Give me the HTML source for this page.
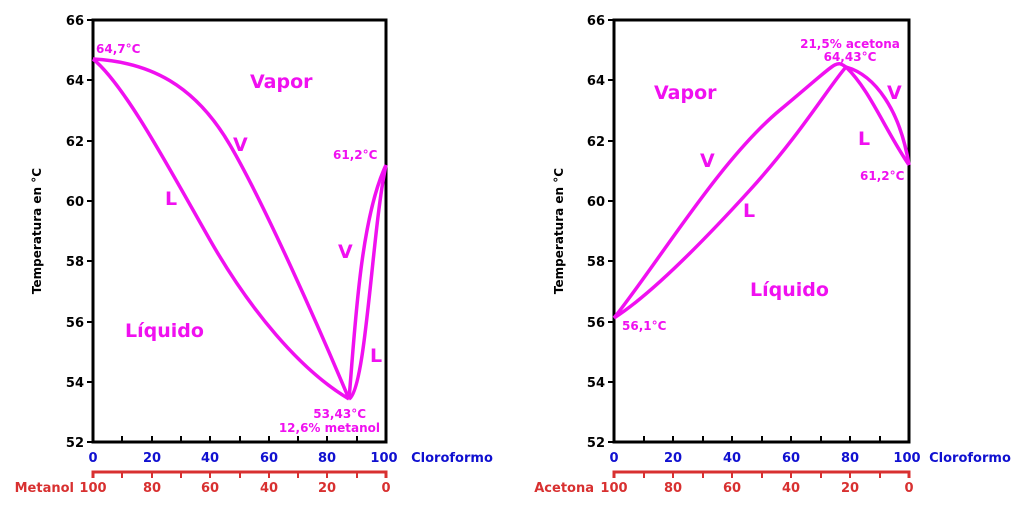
<!DOCTYPE html><html><head><style>body{margin:0;background:#fff}svg{display:block}text{font-family:"DejaVu Sans","Liberation Sans",sans-serif;font-weight:bold}</style></head><body>
<svg width="1024" height="510" viewBox="0 0 1024 510">
<g id="L">
<rect x="93" y="20" width="293" height="422" fill="none" stroke="#000" stroke-width="3"/>
<g stroke="#000" stroke-width="2">
<line x1="87" y1="20" x2="93" y2="20"/><line x1="87" y1="80" x2="93" y2="80"/><line x1="87" y1="141" x2="93" y2="141"/><line x1="87" y1="201" x2="93" y2="201"/><line x1="87" y1="261" x2="93" y2="261"/><line x1="87" y1="322" x2="93" y2="322"/><line x1="87" y1="382" x2="93" y2="382"/><line x1="87" y1="442" x2="93" y2="442"/>
<line x1="122" y1="442" x2="122" y2="436"/><line x1="152" y1="442" x2="152" y2="436"/><line x1="181" y1="442" x2="181" y2="436"/><line x1="210" y1="442" x2="210" y2="436"/><line x1="240" y1="442" x2="240" y2="436"/><line x1="269" y1="442" x2="269" y2="436"/><line x1="298" y1="442" x2="298" y2="436"/><line x1="327" y1="442" x2="327" y2="436"/><line x1="357" y1="442" x2="357" y2="436"/>
</g>
<g font-size="13" text-anchor="end" fill="#000"><text x="84" y="25">66</text><text x="84" y="85">64</text><text x="84" y="146">62</text><text x="84" y="206">60</text><text x="84" y="266">58</text><text x="84" y="327">56</text><text x="84" y="387">54</text><text x="84" y="447">52</text></g>
<text transform="translate(41,231) rotate(-90)" font-size="12" text-anchor="middle">Temperatura en °C</text>
<g font-size="13" fill="#1010d0" text-anchor="middle"><text x="93" y="462">0</text><text x="152" y="462">20</text><text x="210" y="462">40</text><text x="269" y="462">60</text><text x="327" y="462">80</text><text x="384" y="462">100</text><text x="452" y="462">Cloroformo</text></g>
<g stroke="#d83030" stroke-width="3" fill="none"><path d="M93,478V472H386V478"/></g>
<g stroke="#d83030" stroke-width="2"><line x1="122" y1="472" x2="122" y2="478"/><line x1="152" y1="472" x2="152" y2="478"/><line x1="181" y1="472" x2="181" y2="478"/><line x1="210" y1="472" x2="210" y2="478"/><line x1="240" y1="472" x2="240" y2="478"/><line x1="269" y1="472" x2="269" y2="478"/><line x1="298" y1="472" x2="298" y2="478"/><line x1="327" y1="472" x2="327" y2="478"/><line x1="357" y1="472" x2="357" y2="478"/></g>
<g font-size="13" fill="#d83030" text-anchor="middle"><text x="93" y="492">100</text><text x="152" y="492">80</text><text x="210" y="492">60</text><text x="269" y="492">40</text><text x="327" y="492">20</text><text x="386" y="492">0</text><text x="74" y="492" text-anchor="end">Metanol</text></g>
<g stroke="#f010f0" stroke-width="3.5" fill="none">
<path d="M93,59 C150,62 195,85 230,145 S320,330 349,399"/>
<path d="M93,59 C125,85 170,170 210,240 S300,370 349,399"/>
<path d="M349,399 C355,330 360,220 386,165"/>
<path d="M349,399 C366,390 372,230 386,165"/>
</g>
<g fill="#f010f0"><text x="96" y="53" font-size="12">64,7°C</text><text x="333" y="159" font-size="12">61,2°C</text><text x="366" y="418" font-size="12" text-anchor="end">53,43°C</text><text x="380" y="432" font-size="12" text-anchor="end">12,6% metanol</text>
<text x="250" y="88" font-size="19">Vapor</text><text x="125" y="337" font-size="19">Líquido</text><text x="233" y="151" font-size="19">V</text><text x="165" y="205" font-size="19">L</text><text x="338" y="258" font-size="19">V</text><text x="370" y="362" font-size="19">L</text></g>
</g>
<g id="R">
<rect x="614" y="20" width="295" height="422" fill="none" stroke="#000" stroke-width="3"/>
<g stroke="#000" stroke-width="2">
<line x1="608" y1="20" x2="614" y2="20"/><line x1="608" y1="80" x2="614" y2="80"/><line x1="608" y1="141" x2="614" y2="141"/><line x1="608" y1="201" x2="614" y2="201"/><line x1="608" y1="261" x2="614" y2="261"/><line x1="608" y1="322" x2="614" y2="322"/><line x1="608" y1="382" x2="614" y2="382"/><line x1="608" y1="442" x2="614" y2="442"/>
<line x1="644" y1="442" x2="644" y2="436"/><line x1="673" y1="442" x2="673" y2="436"/><line x1="703" y1="442" x2="703" y2="436"/><line x1="732" y1="442" x2="732" y2="436"/><line x1="762" y1="442" x2="762" y2="436"/><line x1="791" y1="442" x2="791" y2="436"/><line x1="821" y1="442" x2="821" y2="436"/><line x1="850" y1="442" x2="850" y2="436"/><line x1="880" y1="442" x2="880" y2="436"/>
</g>
<g font-size="13" text-anchor="end" fill="#000"><text x="605" y="25">66</text><text x="605" y="85">64</text><text x="605" y="146">62</text><text x="605" y="206">60</text><text x="605" y="266">58</text><text x="605" y="327">56</text><text x="605" y="387">54</text><text x="605" y="447">52</text></g>
<text transform="translate(563,231) rotate(-90)" font-size="12" text-anchor="middle">Temperatura en °C</text>
<g font-size="13" fill="#1010d0" text-anchor="middle"><text x="614" y="462">0</text><text x="673" y="462">20</text><text x="732" y="462">40</text><text x="791" y="462">60</text><text x="850" y="462">80</text><text x="907" y="462">100</text><text x="970" y="462">Cloroformo</text></g>
<g stroke="#d83030" stroke-width="3" fill="none"><path d="M614,478V472H909V478"/></g>
<g stroke="#d83030" stroke-width="2"><line x1="644" y1="472" x2="644" y2="478"/><line x1="673" y1="472" x2="673" y2="478"/><line x1="703" y1="472" x2="703" y2="478"/><line x1="732" y1="472" x2="732" y2="478"/><line x1="762" y1="472" x2="762" y2="478"/><line x1="791" y1="472" x2="791" y2="478"/><line x1="821" y1="472" x2="821" y2="478"/><line x1="850" y1="472" x2="850" y2="478"/><line x1="880" y1="472" x2="880" y2="478"/></g>
<g font-size="13" fill="#d83030" text-anchor="middle"><text x="614" y="492">100</text><text x="673" y="492">80</text><text x="732" y="492">60</text><text x="791" y="492">40</text><text x="850" y="492">20</text><text x="909" y="492">0</text><text x="594" y="492" text-anchor="end">Acetona</text></g>
<g stroke="#f010f0" stroke-width="3.5" fill="none">
<path d="M614,318 C660,260 720,160 780,110 S835,60 846,67"/>
<path d="M614,318 C650,295 700,245 750,190 S830,85 846,67"/>
<path d="M846,67 C875,75 900,110 909,165"/>
<path d="M846,67 C870,90 885,130 909,165"/>
</g>
<g fill="#f010f0"><text x="622" y="330" font-size="12">56,1°C</text><text x="860" y="180" font-size="12">61,2°C</text><text x="850" y="48" font-size="12" text-anchor="middle">21,5% acetona</text><text x="850" y="61" font-size="12" text-anchor="middle">64,43°C</text>
<text x="654" y="99" font-size="19">Vapor</text><text x="750" y="296" font-size="19">Líquido</text><text x="700" y="167" font-size="19">V</text><text x="743" y="217" font-size="19">L</text><text x="887" y="99" font-size="19">V</text><text x="858" y="145" font-size="19">L</text></g>
</g>
</svg></body></html>
